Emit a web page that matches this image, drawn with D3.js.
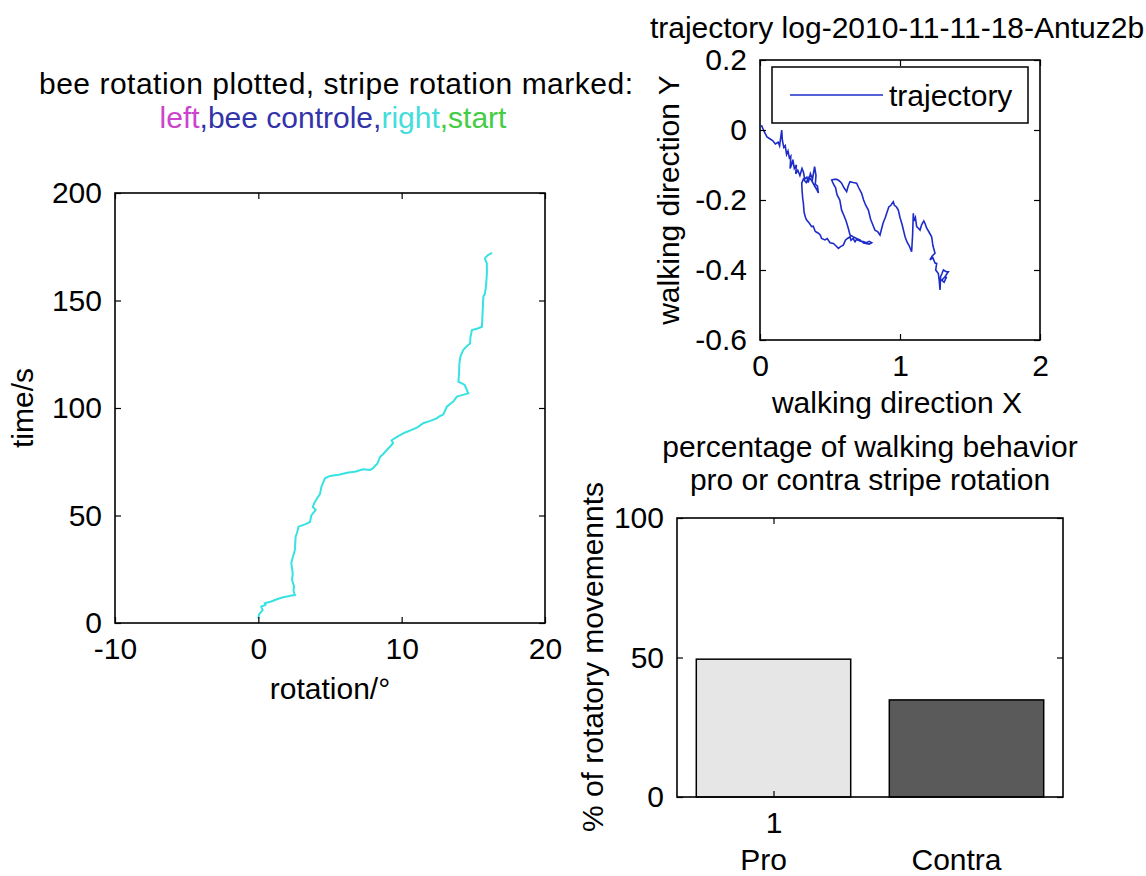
<!DOCTYPE html>
<html>
<head>
<meta charset="utf-8">
<script src="https://cdn.jsdelivr.net/npm/d3@7"></script>
<style>
  html, body { margin: 0; padding: 0; background: #fff; }
  svg text { font-family: "Liberation Sans", Arial, Helvetica, sans-serif; fill: #000; }
</style>
</head>
<body>
<svg id="chart" width="1146" height="876"></svg>
<script>
// ---------- DATA ----------
// Panel 1: bee rotation over time
const rotation = [0, 0.05, 0.3, 0.2, 0.5, 0.45, 0.9, 1.2, 1.5, 1.8, 2.0, 2.3, 2.55, 2.45, 2.5, 2.35, 2.4, 2.3, 2.55, 2.6, 2.7, 2.8, 3.3, 3.6, 3.7, 4.0, 3.8, 3.9, 4.1, 4.3, 4.4, 4.65, 5.0, 5.6, 5.9, 6.2, 6.8, 7.3, 7.8, 8.0, 8.2, 8.3, 8.5, 8.7, 8.9, 9.4, 9.3, 9.7, 10.2, 10.7, 11.1, 11.5, 12.0, 12.45, 12.6, 12.9, 13.15, 13.4, 13.6, 13.85, 14.2, 14.65, 14.4, 14.2, 13.96, 14.0, 14.03, 14.1, 14.3, 14.5, 14.77, 14.8, 14.9, 15.3, 15.6, 15.65, 15.7, 15.8, 15.85, 15.9, 15.95, 15.94, 15.8, 16.0, 16.3];
const timeS = [2, 4, 6, 7.6, 8.4, 9.2, 10, 10.8, 11.5, 12.1, 12.3, 12.8, 13, 15, 16.9, 20, 23, 28, 34, 40, 42, 44.8, 46, 47, 50, 52.6, 54, 55.7, 58, 60, 63.4, 67.3, 68.4, 69, 69.4, 69.9, 70.5, 71.5, 71.2, 72, 73.5, 74, 77.3, 78.5, 80, 83.6, 85, 86.7, 88.5, 89.8, 91, 92.9, 94, 95.2, 96, 97, 100.6, 102, 103, 105.3, 106, 106.8, 110.7, 111.5, 112.2, 116, 120.8, 124, 127, 128.5, 130, 133, 136.3, 137, 137.8, 145, 151.8, 153, 155, 158, 163, 167.3, 169.6, 171, 172.2];
const rotTicks = [-10, 0, 10, 20];
const timeTicks = [0, 50, 100, 150, 200];

// Panel 2: trajectory
const trajX = [0.01, 0.03, 0.05, 0.07, 0.09, 0.11, 0.13, 0.14, 0.155, 0.16, 0.17, 0.18, 0.19, 0.2, 0.21, 0.22, 0.215, 0.225, 0.235, 0.245, 0.26, 0.255, 0.27, 0.285, 0.3, 0.31, 0.32, 0.335, 0.345, 0.36, 0.375, 0.39, 0.4, 0.395, 0.41, 0.417, 0.405, 0.39, 0.37, 0.35, 0.33, 0.31, 0.298,
  0.3, 0.305, 0.31, 0.315, 0.325, 0.333, 0.35, 0.369, 0.38, 0.395, 0.417, 0.43, 0.44, 0.464, 0.48, 0.5, 0.524, 0.54, 0.56, 0.575, 0.595, 0.61, 0.625, 0.643, 0.65, 0.665, 0.679, 0.69, 0.7, 0.72, 0.738, 0.76, 0.78, 0.798, 0.78, 0.74, 0.714, 0.69, 0.665, 0.643,
  0.63, 0.615, 0.6, 0.583, 0.57, 0.55, 0.54, 0.525, 0.512, 0.53, 0.548, 0.565, 0.583, 0.6, 0.619, 0.63, 0.643, 0.665, 0.69, 0.705, 0.726, 0.74, 0.755, 0.774, 0.79, 0.805, 0.821, 0.84, 0.857, 0.87, 0.88, 0.895, 0.905, 0.92, 0.935, 0.952, 0.96, 0.975, 0.988, 1.0, 1.015, 1.036, 1.05, 1.065, 1.083, 1.09, 1.095, 1.1, 1.11, 1.119, 1.13, 1.143, 1.155, 1.17, 1.179, 1.19, 1.205, 1.226, 1.235, 1.25, 1.23, 1.214, 1.235, 1.25, 1.262, 1.255, 1.274, 1.28, 1.286, 1.29, 1.3, 1.31, 1.33, 1.345, 1.32, 1.298, 1.315, 1.333];
const trajY = [0.014, -0.005, -0.02, -0.025, -0.03, -0.04, -0.035, -0.045, 0.0, -0.03, -0.05, -0.045, -0.07, -0.06, -0.08, -0.075, -0.11, -0.1, -0.085, -0.11, -0.1, -0.125, -0.115, -0.13, -0.11, -0.12, -0.14, -0.135, -0.15, -0.125, -0.14, -0.105, -0.13, -0.155, -0.16, -0.18, -0.17, -0.16, -0.145, -0.135, -0.15, -0.14, -0.152,
  -0.17, -0.195, -0.21, -0.235, -0.25, -0.257, -0.265, -0.276, -0.275, -0.29, -0.295, -0.3, -0.31, -0.314, -0.31, -0.322, -0.324, -0.33, -0.338, -0.333, -0.329, -0.315, -0.31, -0.305, -0.315, -0.31, -0.319, -0.312, -0.315, -0.318, -0.319, -0.322, -0.318, -0.322, -0.326, -0.323, -0.314, -0.31, -0.305, -0.3,
  -0.28, -0.26, -0.245, -0.229, -0.2, -0.185, -0.165, -0.155, -0.143, -0.141, -0.141, -0.145, -0.152, -0.165, -0.176, -0.16, -0.148, -0.15, -0.152, -0.165, -0.181, -0.2, -0.215, -0.229, -0.255, -0.27, -0.286, -0.29, -0.3, -0.28, -0.265, -0.25, -0.238, -0.22, -0.215, -0.205, -0.215, -0.22, -0.229, -0.25, -0.27, -0.305, -0.32, -0.33, -0.348, -0.3, -0.238, -0.26, -0.25, -0.276, -0.28, -0.286, -0.27, -0.26, -0.267, -0.28, -0.29, -0.305, -0.33, -0.352, -0.36, -0.371, -0.365, -0.38, -0.381, -0.4, -0.41, -0.43, -0.457, -0.419, -0.41, -0.4, -0.405, -0.405, -0.42, -0.429, -0.435, -0.419];
const trajXTicks = [0, 1, 2];
const trajYTicks = [0.2, 0, -0.2, -0.4, -0.6];

// Panel 3: pro / contra bars
const barCategories = ["Pro", "Contra"];
const barPositions = [1, 2];
const barValues = [49.4, 34.8];
const barColors = ["#e6e6e6", "#5a5a5a"];
const barYTicks = [0, 50, 100];
const barXTicks = [1];

// ---------- DRAW ----------
const svg = d3.select("#chart");
const FS = 30;

function boxAxes(g, x, y, xt, yt, opts) {
  const w = x.range()[1] - x.range()[0];
  const h = y.range()[0] - y.range()[1];
  const x0 = x.range()[0], y0 = y.range()[1];
  const tl = 6;
  const fmtX = opts.fmtX || (d => d);
  const fmtY = opts.fmtY || (d => d);
  const bottom = g.append("g").attr("transform", `translate(0,${y0 + h})`)
    .call(d3.axisBottom(x).tickValues(xt).tickSize(-tl).tickPadding(15).tickFormat(fmtX));
  const top = g.append("g").attr("transform", `translate(0,${y0})`)
    .call(d3.axisTop(x).tickValues(xt).tickSize(-tl).tickFormat(""));
  const left = g.append("g").attr("transform", `translate(${x0},0)`)
    .call(d3.axisLeft(y).tickValues(yt).tickSize(-tl).tickPadding(13).tickFormat(fmtY));
  const right = g.append("g").attr("transform", `translate(${x0 + w},0)`)
    .call(d3.axisRight(y).tickValues(yt).tickSize(-tl).tickFormat(""));
  [bottom, top, left, right].forEach(a => {
    a.select(".domain").remove();
    a.selectAll(".tick line").attr("stroke", "#000").attr("stroke-width", 1.2);
    a.selectAll("text").attr("font-size", FS).attr("font-family", null).attr("fill", "#000");
  });
  g.append("rect").attr("x", x0).attr("y", y0).attr("width", w).attr("height", h)
    .attr("fill", "none").attr("stroke", "#000").attr("stroke-width", 1.6);
}

// Panel 1
{
  const g = svg.append("g");
  const x = d3.scaleLinear().domain([-10, 20]).range([115, 545]);
  const y = d3.scaleLinear().domain([0, 200]).range([623, 193]);
  g.append("rect").attr("x", 115).attr("y", 193).attr("width", 430).attr("height", 430).attr("fill", "#fff");
  const pts = rotation.map((r, i) => [r, timeS[i]]);
  g.append("path").datum(pts)
    .attr("d", d3.line().x(d => x(d[0])).y(d => y(d[1])))
    .attr("fill", "none").attr("stroke", "#38e2e2").attr("stroke-width", 2);
  boxAxes(g, x, y, rotTicks, timeTicks, {});
  svg.append("text").attr("x", 336).attr("y", 94).attr("text-anchor", "middle").attr("font-size", FS)
    .attr("textLength", 594).attr("lengthAdjust", "spacing")
    .text("bee rotation plotted, stripe rotation marked:");
  const t2 = svg.append("text").attr("x", 333).attr("y", 128).attr("text-anchor", "middle").attr("font-size", FS);
  t2.append("tspan").style("fill", "#cc44cc").text("left");
  t2.append("tspan").style("fill", "#3333aa").text(",bee controle,");
  t2.append("tspan").style("fill", "#44dddd").text("right");
  t2.append("tspan").style("fill", "#44cc44").text(",start");
  svg.append("text").attr("x", 330).attr("y", 699).attr("text-anchor", "middle").attr("font-size", FS)
    .text("rotation/°");
  svg.append("text").attr("transform", "translate(33,408) rotate(-90)").attr("text-anchor", "middle").attr("font-size", FS)
    .text("time/s");
}

// Panel 2
{
  const g = svg.append("g");
  const x = d3.scaleLinear().domain([0, 2]).range([760, 1040]);
  const y = d3.scaleLinear().domain([-0.6, 0.2]).range([340, 60]);
  g.append("rect").attr("x", 760).attr("y", 60).attr("width", 280).attr("height", 280).attr("fill", "#fff");
  const pts = trajX.map((v, i) => [v, trajY[i]]);
  g.append("path").datum(pts)
    .attr("d", d3.line().x(d => x(d[0])).y(d => y(d[1])))
    .attr("fill", "none").attr("stroke", "#1d2cc8").attr("stroke-width", 1.6);
  boxAxes(g, x, y, trajXTicks, trajYTicks, { fmtY: d => d === 0 ? "0" : d3.format(".1f")(d).replace("−", "-") });
  // legend
  g.append("rect").attr("x", 772).attr("y", 67).attr("width", 256).attr("height", 56)
    .attr("fill", "#fff").attr("stroke", "#000").attr("stroke-width", 1.5);
  g.append("line").attr("x1", 790).attr("x2", 883).attr("y1", 95).attr("y2", 95)
    .attr("stroke", "#1d2cc8").attr("stroke-width", 1.4);
  g.append("text").attr("x", 889).attr("y", 106).attr("font-size", FS).text("trajectory");
  svg.append("text").attr("x", 897).attr("y", 38).attr("text-anchor", "middle").attr("font-size", FS)
    .text("trajectory log-2010-11-11-18-Antuz2b");
  svg.append("text").attr("x", 897).attr("y", 413).attr("text-anchor", "middle").attr("font-size", FS)
    .text("walking direction X");
  svg.append("text").attr("transform", "translate(679,200) rotate(-90)").attr("text-anchor", "middle").attr("font-size", FS)
    .text("walking direction Y");
}

// Panel 3
{
  const g = svg.append("g");
  const x = d3.scaleLinear().domain([0.5, 2.5]).range([677, 1063]);
  const y = d3.scaleLinear().domain([0, 100]).range([797, 518]);
  g.append("rect").attr("x", 677).attr("y", 518).attr("width", 386).attr("height", 279).attr("fill", "#fff");
  g.selectAll("rect.bar").data(barValues).enter().append("rect").attr("class", "bar")
    .attr("x", (d, i) => x(barPositions[i] - 0.4))
    .attr("width", (d, i) => x(barPositions[i] + 0.4) - x(barPositions[i] - 0.4))
    .attr("y", d => y(d)).attr("height", d => y(0) - y(d))
    .attr("fill", (d, i) => barColors[i]).attr("stroke", "#000").attr("stroke-width", 1.5);
  boxAxes(g, x, y, barXTicks, barYTicks, {});
  g.selectAll("text.cat").data(barCategories).enter().append("text").attr("class", "cat")
    .attr("x", (d, i) => x(barPositions[i]) - 10).attr("y", 870).attr("text-anchor", "middle").attr("font-size", FS)
    .text(d => d);
  svg.append("text").attr("x", 870).attr("y", 457).attr("text-anchor", "middle").attr("font-size", FS)
    .text("percentage of walking behavior");
  svg.append("text").attr("x", 870).attr("y", 490).attr("text-anchor", "middle").attr("font-size", FS)
    .text("pro or contra stripe rotation");
  svg.append("text").attr("transform", "translate(603,657) rotate(-90)").attr("text-anchor", "middle").attr("font-size", FS)
    .text("% of rotatory movemennts");
}
</script>
</body>
</html>
